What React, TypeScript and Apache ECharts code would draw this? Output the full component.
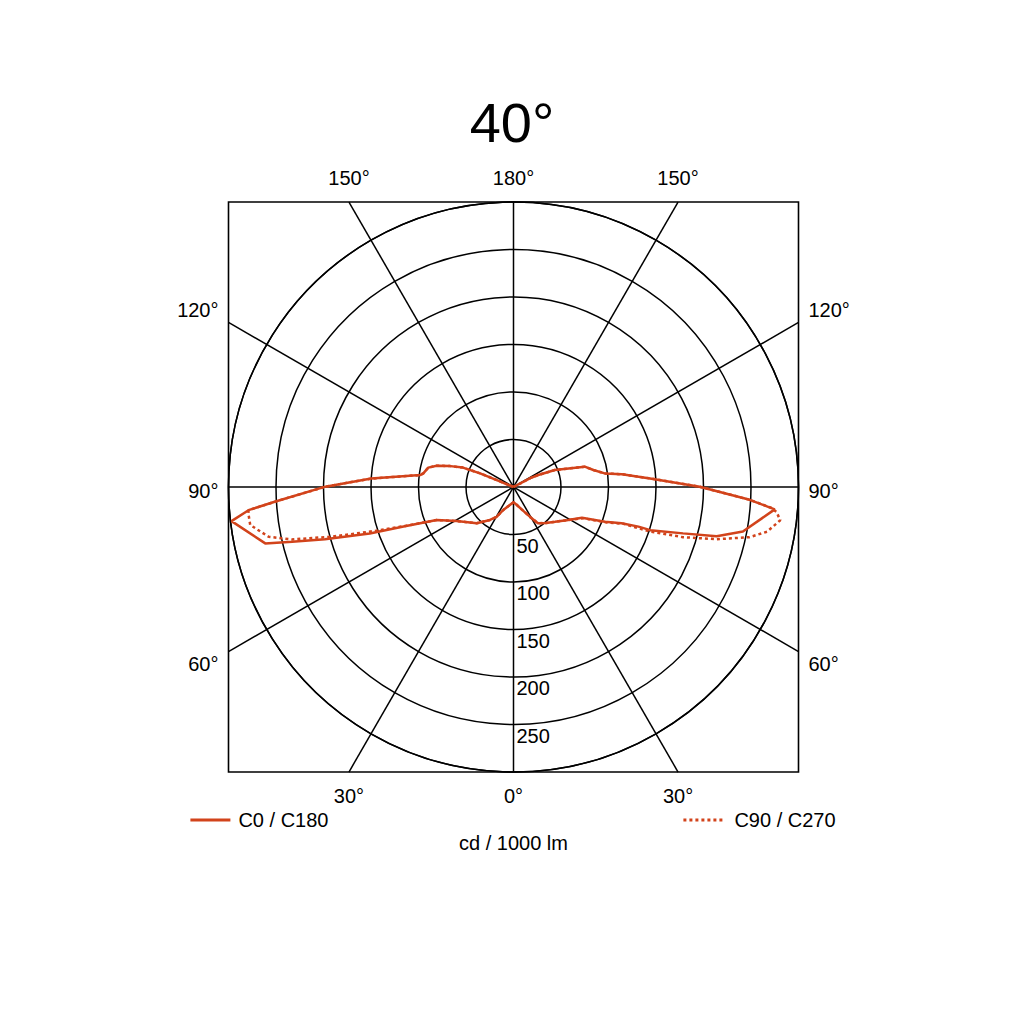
// PolarIntensity.tsx
import React, { useEffect, useRef } from "react";
import * as echarts from "echarts";

// 配光データ（γ角[°], cd/1000lm）
const C0: number[][] = [
  [0, 16], [10, 19], [20, 25], [29, 36], [34, 46], [42, 51], [50, 57], [58, 66],
  [65.8, 79], [69.2, 103], [71.5, 120], [72.4, 138], [72.5, 151], [74.7, 185],
  [76.4, 220], [79, 246], [85.1, 276], [86.9, 249], [90.1, 196], [93.6, 144],
  [96.7, 115], [98.5, 97], [102, 86], [105.9, 78], [112.3, 47], [115.8, 29],
  [117.8, 20], [121, 0],
];
const C180: number[][] = [
  [0, 16], [24, 26.5], [29.5, 36], [35.5, 42.6], [45.4, 54.4], [59.1, 69.7],
  [66.7, 88], [70.2, 123], [72.1, 159], [74.5, 206], [76.1, 240], [77.2, 268],
  [83.1, 299], [85, 280], [86.5, 251], [90.1, 198], [93.4, 150], [97.3, 99],
  [98.6, 96], [102.8, 92], [105.5, 84], [108.3, 70], [111, 57], [112.2, 38],
  [112.6, 19], [116, 0],
];
const C90: number[][] = [
  [0, 16], [10, 19], [20, 25], [29, 36], [34, 46], [42, 51], [50, 57], [58, 66],
  [65.8, 80], [69.2, 105], [71.5, 122], [71.9, 151], [73.5, 186], [75.6, 221],
  [78, 254], [80, 271], [82.9, 283], [84.6, 278], [85.4, 272], [86.9, 249],
  [90.1, 196], [93.6, 144], [96.7, 115], [98.5, 97], [102, 86], [105.9, 78],
  [112.3, 47], [115.8, 29], [117.8, 20], [121, 0],
];
const C270: number[][] = [
  [0, 16], [24, 26.5], [29.5, 36], [35.5, 42.6], [45.4, 54.4], [59.1, 69.7],
  [66.7, 88], [70.2, 121], [72.4, 153], [74.7, 198], [76.7, 240], [78.5, 263],
  [81.8, 280], [84.3, 280.5], [85, 280], [86.5, 251], [90.1, 198], [93.4, 150],
  [97.3, 99], [98.6, 96], [102.8, 92], [105.5, 84], [108.3, 70], [111, 57],
  [112.2, 38], [112.6, 19], [116, 0],
];

const RING_LABELS = [50, 100, 150, 200, 250];
const ANGLE_LABELS = [0, 30, 60, 90, 120, 150, 180];
const SPOKES = [0, 30, 60, 90, 120, 150];
const R_MAX = 300;

const CX = 513.5;
const CY = 487;
const R = 285; // 外周円の半径(px)
const HALF = 285; // 枠の半分の幅
const RED = "#d2431b";
const FONT = "'Liberation Sans', Arial, sans-serif";

// 右半面: θ = γ, 左半面: θ = 360 - γ
const toSeries = (left: number[][], right: number[][]) => [
  ...[...left].reverse().map(([g, v]) => [v, 360 - g]),
  ...right.map(([g, v]) => [v, g]),
];

export default function App() {
  const chartRef = useRef<HTMLDivElement>(null);

  useEffect(() => {
    if (!chartRef.current) return;
    const chart = echarts.init(chartRef.current, undefined, { renderer: "svg" });

    const graphics: any[] = [];

    // 枠
    graphics.push({
      type: "rect",
      z: 1,
      shape: { x: CX - HALF, y: CY - HALF, width: HALF * 2, height: HALF * 2 },
      style: { fill: "none", stroke: "#000", lineWidth: 1.6 },
    });

    // 放射線（枠まで）
    SPOKES.forEach((g) => {
      const rad = (g * Math.PI) / 180;
      const dx = Math.sin(rad);
      const dy = Math.cos(rad);
      const t = HALF / Math.max(Math.abs(dx), Math.abs(dy));
      graphics.push({
        type: "line",
        z: 1,
        shape: { x1: CX - dx * t, y1: CY - dy * t, x2: CX + dx * t, y2: CY + dy * t },
        style: { stroke: "#000", lineWidth: 1.5 },
      });
    });

    // 角度ラベル
    ANGLE_LABELS.forEach((g) => {
      const rad = (g * Math.PI) / 180;
      const dx = Math.sin(rad);
      const dy = Math.cos(rad);
      const t = HALF / Math.max(Math.abs(dx), Math.abs(dy));
      const sides = g === 0 || g === 180 ? [1] : [1, -1];
      sides.forEach((s) => {
        const ex = CX + s * dx * t;
        const ey = CY + dy * t;
        let x = ex;
        let y = ey;
        let align = "center";
        if (Math.abs(dy) >= Math.abs(dx) - 1e-9) {
          y = ey + Math.sign(dy) * 24;
        } else {
          x = ex + s * 10;
          align = s > 0 ? "left" : "right";
          y = Math.abs(dy) < 1e-6 ? ey + 4 : ey + Math.sign(dy) * 12;
        }
        graphics.push({
          type: "text",
          z: 1,
          x,
          y,
          style: {
            text: `${g}°`,
            fontSize: 20,
            fontFamily: FONT,
            fill: "#000",
            align,
            verticalAlign: "middle",
          },
        });
      });
    });

    // 半径ラベル
    RING_LABELS.forEach((v) => {
      graphics.push({
        type: "text",
        z: 1,
        x: CX + 3,
        y: CY + (v * R) / R_MAX + 11,
        style: {
          text: String(v),
          fontSize: 20,
          fontFamily: FONT,
          fill: "#000",
          align: "left",
          verticalAlign: "middle",
        },
      });
    });

    graphics.push({
      type: "text",
      z: 1,
      x: CX,
      y: 843,
      style: {
        text: "cd / 1000 lm",
        fontSize: 20,
        fontFamily: FONT,
        fill: "#000",
        align: "center",
        verticalAlign: "middle",
      },
    });

    const legendBase = {
      top: 810,
      padding: 0,
      itemWidth: 40,
      itemHeight: 14,
      itemStyle: { color: "rgba(0,0,0,0)", borderWidth: 0, opacity: 0 },
      lineStyle: { width: 2.8 },
    };

    chart.setOption({
      animation: false,
      title: {
        text: "40°",
        left: "center",
        top: 94,
        padding: 0,
        textStyle: { fontSize: 56, fontWeight: "normal", color: "#000", fontFamily: FONT },
      },
      legend: [
        {
          ...legendBase,
          data: ["C0 / C180"],
          left: 189,
          textStyle: { fontSize: 20, color: "#000", fontFamily: FONT, padding: [0, 0, 0, 3] },
        },
        {
          ...legendBase,
          data: ["C90 / C270"],
          left: 682,
          textStyle: { fontSize: 20, color: "#000", fontFamily: FONT, padding: [0, 0, 0, 6] },
        },
      ],
      polar: { center: [CX, CY], radius: R },
      angleAxis: {
        type: "value",
        min: 0,
        max: 360,
        interval: 30,
        startAngle: 270,
        clockwise: false,
        axisLine: { show: true, lineStyle: { color: "#000", width: 1.5 } },
        axisTick: { show: false },
        axisLabel: { show: false },
        splitLine: { show: false },
      },
      radiusAxis: {
        type: "value",
        min: 0,
        max: R_MAX,
        interval: 50,
        axisLine: { show: false },
        axisTick: { show: false },
        axisLabel: { show: false },
        splitLine: { show: true, lineStyle: { color: "#000", width: 1.5 } },
      },
      graphic: { elements: graphics },
      series: [
        {
          name: "C90 / C270",
          type: "line",
          coordinateSystem: "polar",
          data: toSeries(C270, C90),
          symbol: "none",
          showSymbol: false,
          lineStyle: { color: RED, width: 2.5, type: [3, 3] },
          itemStyle: { color: RED },
          z: 3,
        },
        {
          name: "C0 / C180",
          type: "line",
          coordinateSystem: "polar",
          data: toSeries(C180, C0),
          symbol: "none",
          showSymbol: false,
          lineStyle: { color: RED, width: 2.5 },
          itemStyle: { color: RED },
          z: 4,
        },
      ],
    });

    return () => {
      chart.dispose();
    };
  }, []);

  return (
    <div
      ref={chartRef}
      style={{ position: "fixed", left: 0, top: 0, width: "1024px", height: "1024px", background: "#fff" }}
    />
  );
}
